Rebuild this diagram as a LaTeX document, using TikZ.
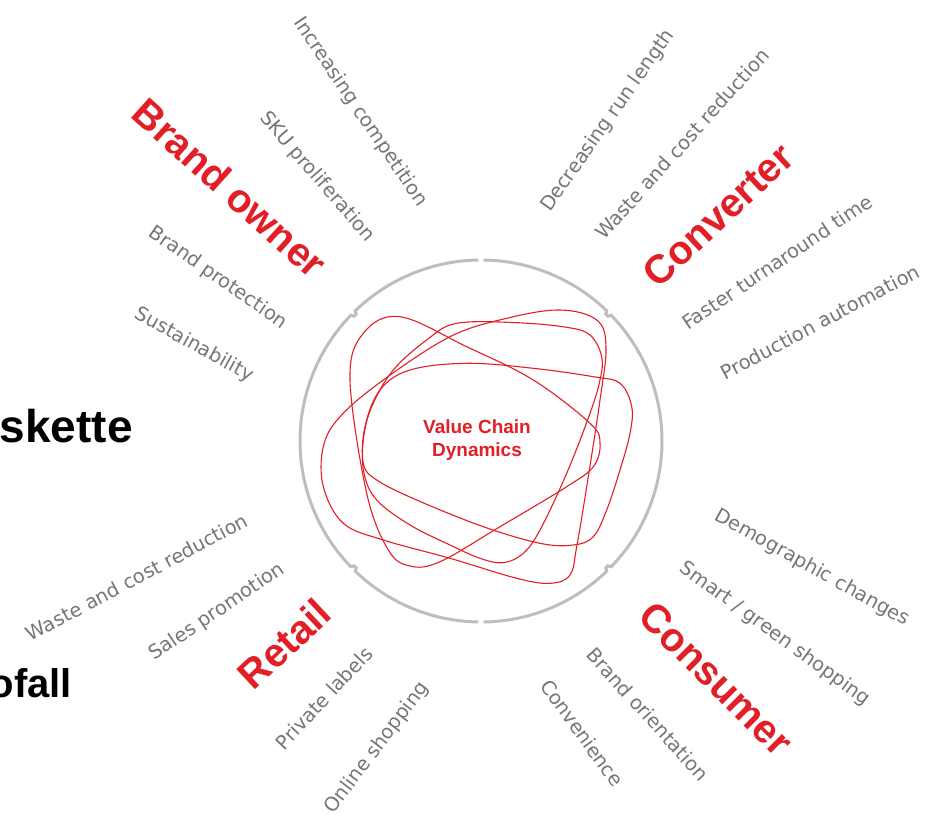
\documentclass[tikz,border=0pt]{standalone}
\usepackage{fontspec}
\setmainfont{Liberation Sans}
\newfontfamily\lblfont{DejaVu Sans}
\definecolor{vred}{RGB}{226,30,38}
\definecolor{vgray}{RGB}{118,118,118}
\definecolor{ringgray}{RGB}{190,190,190}
\begin{document}
\begin{tikzpicture}[x=1pt,y=-1pt,
  lbl/.style={text=vgray, font=\lblfont\fontsize{19.5}{24}\selectfont, inner sep=0pt},
  cat/.style={text=vred, font=\bfseries\fontsize{40}{44}\selectfont, inner sep=0pt},
  loopline/.style={draw=vred, line width=1.1pt},
  ringline/.style={draw=ringgray, line width=3pt},
 ]
\useasboundingbox (0,0) rectangle (926,821);
\fill[white] (0,0) rectangle (926,821);

% ring
\begin{scope}[shift={(481,441)}]
\draw[ringline] (-89.2:181) arc[start angle=-89.2, end angle=-46, radius=181]
  -- (-45.5:178) -- (-44.5:178) -- (-44:181)
  arc[start angle=-44, end angle=44, radius=181]
  -- (44.5:178) -- (45.5:178) -- (46:181)
  arc[start angle=46, end angle=89.2, radius=181];
\draw[ringline] (90.8:181) arc[start angle=90.8, end angle=134, radius=181]
  -- (134.5:178) -- (135.5:178) -- (136:181)
  arc[start angle=136, end angle=224, radius=181]
  -- (224.5:178) -- (225.5:178) -- (226:181)
  arc[start angle=226, end angle=269.2, radius=181];
\end{scope}

% loops
\draw[loopline] plot[smooth cycle, tension=0.6] coordinates {(400,316.7) (363.3,333.3) (350,380) (366.7,493.3) (388.3,550) (410,566) (440,561.7) (500,526.7) (566.7,486.7) (593.3,466.7) (600,443.3) (590,423.3) (533.3,380) (466.7,346.7)};
\draw[loopline] plot[smooth cycle, tension=0.6] coordinates {(506.7,318.3) (560,310) (596.7,320) (606,346.7) (600,400) (586.7,486.7) (576.7,546.7) (570,575) (550,583.3) (516.7,578.3) (450,558.3) (383.3,540) (343.3,523.3) (323.3,486.7) (323.3,446.7) (340,416.7) (383.3,380) (450,336.7)};
\draw[loopline] plot[smooth cycle, tension=0.6] coordinates {(466.7,363.3) (533.3,368.3) (593.3,376.7) (620,383.3) (631.7,406.7) (630,433.3) (620,470) (606.7,510) (593.3,536.7) (573.3,545) (540,543.3) (483.3,526.7) (416.7,500) (376.7,480) (363.3,463.3) (365,426.7) (380,390) (410,370)};
\draw[loopline] plot[smooth cycle, tension=0.6] coordinates {(456.7,323.3) (516.7,322.7) (566.7,327.3) (590,335) (601.7,356.7) (600,380) (590,413.3) (566.7,473.3) (540,530) (523.3,553.3) (503.3,562.7) (480,558.3) (450,545) (410,525) (376.7,500) (364,473.3) (363.3,440) (371.7,406.7) (393.3,370) (426.7,340)};

\node[text=vred, font=\bfseries\fontsize{19}{23}\selectfont, align=center, inner sep=0pt] (vcd) at (477,440) {Value Chain\\Dynamics};

% Brand owner
\node[lbl, rotate=-56] (ic) at (360,112) {Increasing competition};
\node[lbl, rotate=-49] (sku) at (317,177) {SKU proliferation};
\node[cat, rotate=-42] (bo) at (230,188) {Brand owner};
\node[lbl, rotate=-35] (bp) at (218,278) {Brand protection};
\node[lbl, rotate=-29] (su) at (194,345) {Sustainability};
% Converter
\node[lbl, rotate=55] (dr) at (608,121) {Decreasing run length};
\node[lbl, rotate=48] (wc1) at (682,144) {Waste and cost reduction};
\node[cat, rotate=43] (cv) at (718,215) {Converter};
\node[lbl, rotate=34] (ft) at (777,262) {Faster turnaround time};
\node[lbl, rotate=28] (pa) at (820,322) {Production automation};
% Retail
\node[lbl, rotate=28] (wc2) at (137,577) {Waste and cost reduction};
\node[lbl, rotate=34] (sp) at (217,612) {Sales promotion};
\node[cat, rotate=43] (rt) at (284,644) {Retail};
\node[lbl, rotate=47] (pl) at (324,698) {Private labels};
\node[lbl, rotate=53] (os) at (377,748) {Online shopping};
% Consumer
\node[lbl, rotate=-29] (dc) at (812,568) {Demographic changes};
\node[lbl, rotate=-36] (sg) at (775,634) {Smart / green shopping};
\node[cat, rotate=-45] (cs) at (716,679) {Consumer};
\node[lbl, rotate=-48] (bor) at (648,714) {Brand orientation};
\node[lbl, rotate=-54] (cn) at (582,733) {Convenience};

% partial black words
\node[font=\bfseries\fontsize{46}{50}\selectfont, anchor=base east, inner sep=0pt] (sk) at (133,442) {skette};
\node[font=\bfseries\fontsize{40}{44}\selectfont, anchor=base east, inner sep=0pt] (of) at (72,697) {ofall};
\end{tikzpicture}
\end{document}
